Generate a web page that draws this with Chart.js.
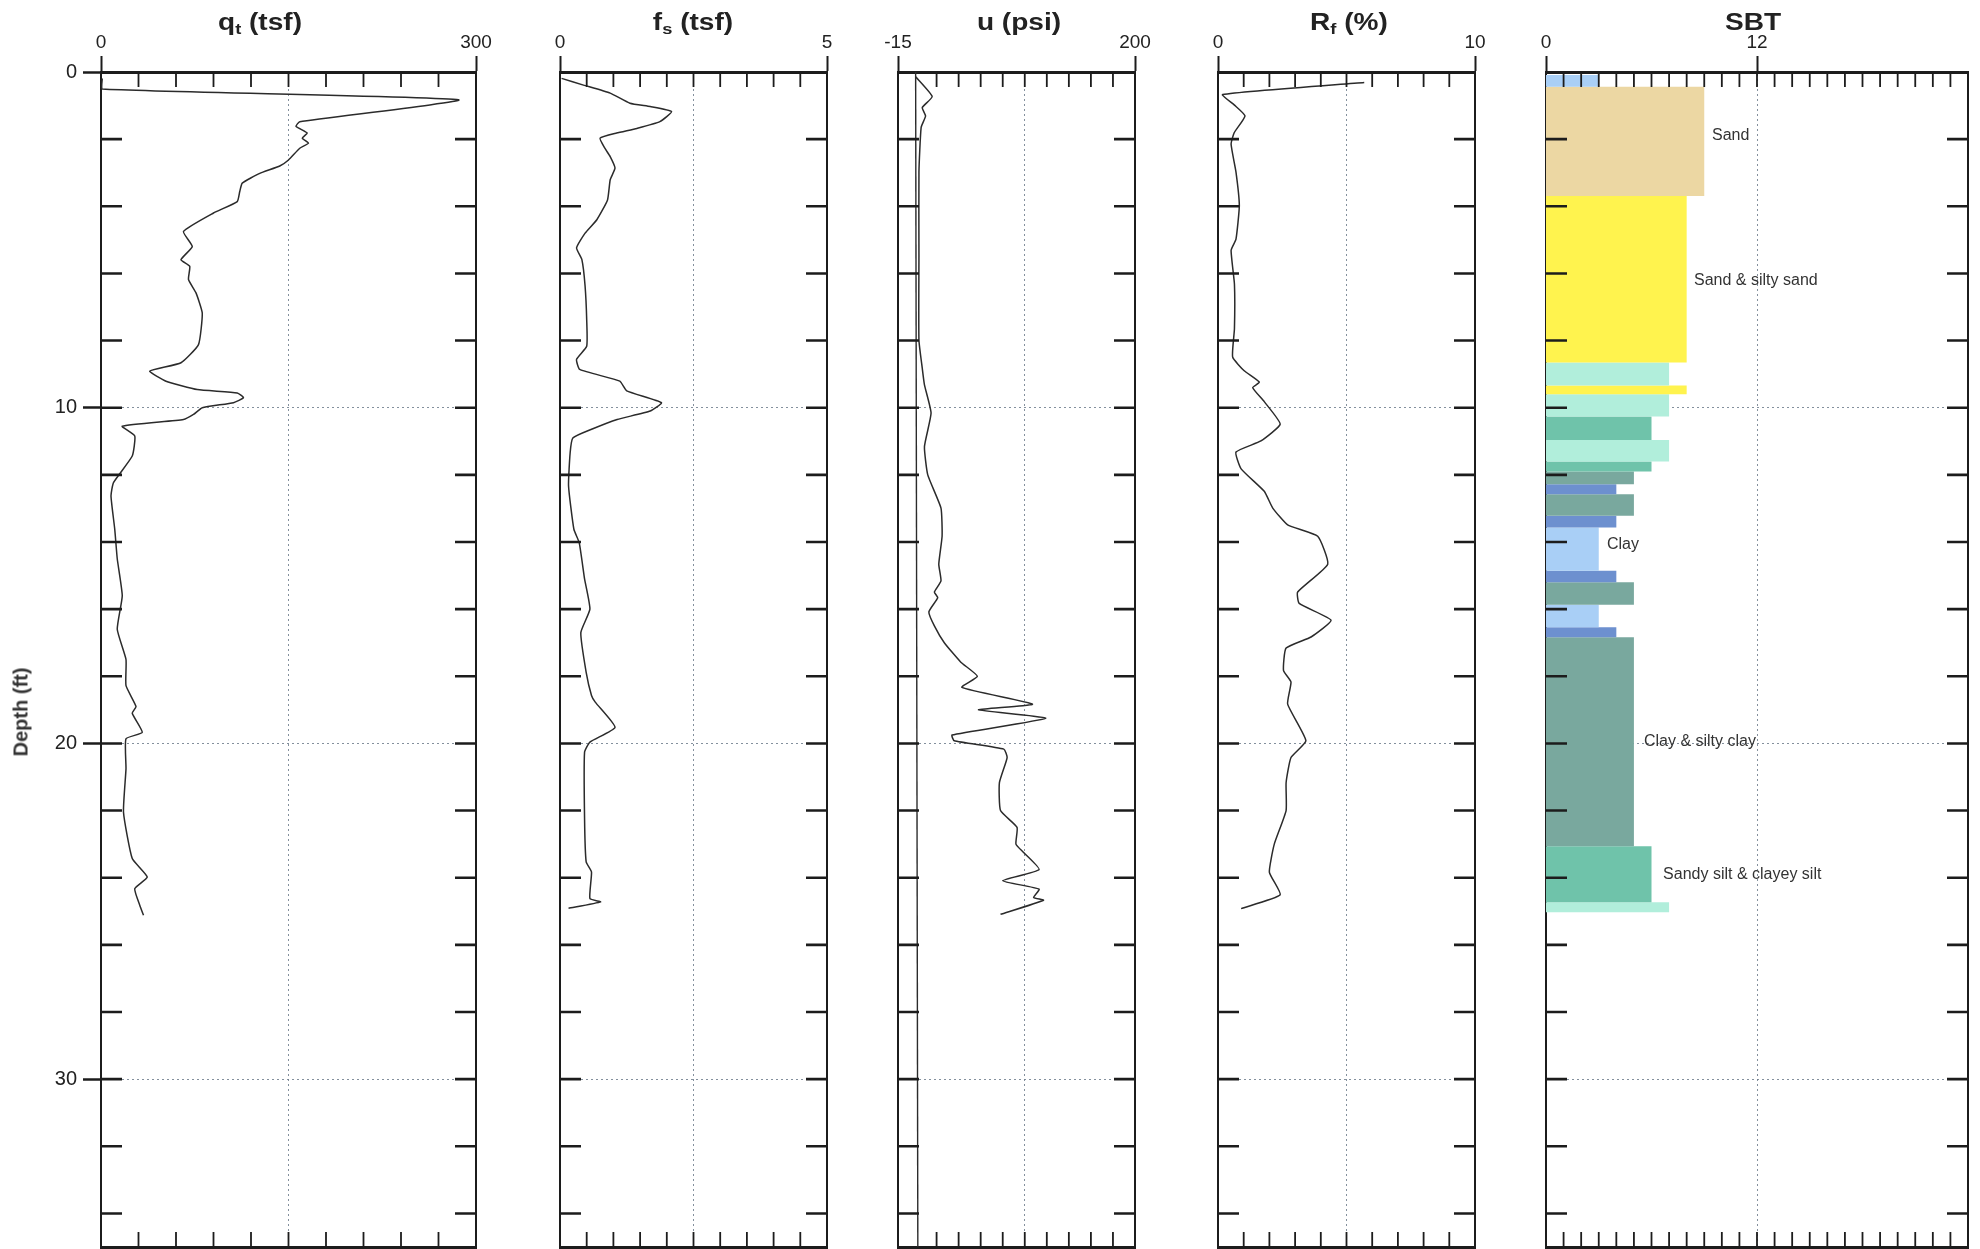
<!DOCTYPE html>
<html>
<head>
<meta charset="utf-8">
<script src="https://cdn.jsdelivr.net/npm/chart.js@4.4.1/dist/chart.umd.min.js"></script>
<style>
  html, body { margin:0; padding:0; background:#fff; width:1980px; height:1249px; overflow:hidden; }
  body { position:relative; font-family:'Liberation Sans', Arial, sans-serif; }
  canvas { position:absolute; top:0; }
  .ttl { position:absolute; top:11px; font-weight:bold; font-size:23px; line-height:23px; color:#222;
         white-space:nowrap; transform:translateX(-50%) scaleX(1.22); z-index:2; }
  .sb { font-size:15px; vertical-align:-4px; }
  .ylab { position:absolute; left:21px; top:712px; font-weight:bold; font-size:20px; color:#333; white-space:nowrap;
          transform:translate(-50%,-50%) rotate(-90deg); z-index:2; }
</style>
</head>
<body>
<div class="ttl" style="left:260px">q<span class="sb">t</span> (tsf)</div>
<div class="ttl" style="left:693px">f<span class="sb">s</span> (tsf)</div>
<div class="ttl" style="left:1019px">u (psi)</div>
<div class="ttl" style="left:1349px">R<span class="sb">f</span> (%)</div>
<div class="ttl" style="left:1753px">SBT</div>
<div class="ylab">Depth (ft)</div>

<canvas id="cQt"></canvas>
<canvas id="cFs"></canvas>
<canvas id="cU"></canvas>
<canvas id="cRf"></canvas>
<canvas id="cSbt"></canvas>

<script>
// ---------------- DATA ----------------
// depth axis
const depthTicks  = [0,2,4,6,8,10,12,14,16,18,20,22,24,26,28,30,32,34];
const depthLabels = [0,10,20,30];
const depthGrid   = [10,20,30];

// cone resistance qt (tsf)
const qtTicks  = [0,30,60,90,120,150,180,210,240,270,300];
const qtLabels = [0,300];
const qtDepth = [0.19,0.51,0.83,1.48,1.62,1.82,1.97,2.12,2.27,2.62,2.80,3.02,3.31,3.56,3.86,4.20,4.75,5.20,5.59,5.79,6.18,6.58,7.18,8.12,8.66,8.91,9.21,9.46,9.56,9.70,9.85,10.00,10.20,10.35,10.55,10.84,11.44,12.23,12.63,13.62,14.50,15.60,16.60,17.50,18.28,18.90,19.10,19.67,19.86,20.75,22.05,23.43,23.98,24.33,24.82,25.12];
const qtValue = [1,1,286,159,156,165,161,166,159,150,143,127,113,111,109,90,66,73,64,71,70,76,81,78,64,39,52,77,109,114,106,81,74,66,17,27,25,10,8,11,13,17,13,20,20,28,25,33,20,20,18,25,37,27,31,34];

// sleeve friction fs (tsf)
const fsTicks  = [0,0.5,1,1.5,2,2.5,3,3.5,4,4.5,5];
const fsLabels = [0,5];
const fsDepth = [0.19,0.39,0.63,0.93,1.03,1.18,1.48,1.68,1.82,1.97,2.27,2.52,2.86,3.21,3.81,4.40,4.80,5.24,5.59,6.38,7.38,8.17,8.56,8.86,9.21,9.50,9.85,10.10,10.35,10.65,10.90,11.34,12.33,13.62,14.02,15.10,16.00,16.70,17.88,18.57,18.77,19.52,19.96,20.26,22.24,23.53,23.83,24.62,24.72,24.91];
const fsValue = [0.03,0.44,0.94,1.31,1.69,2.09,1.87,1.44,1.06,0.75,0.84,0.94,1.03,0.94,0.89,0.69,0.47,0.31,0.41,0.47,0.50,0.50,0.31,0.37,1.12,1.25,1.90,1.69,1.07,0.58,0.24,0.19,0.16,0.26,0.36,0.46,0.56,0.39,0.49,0.59,0.66,1.03,0.56,0.46,0.46,0.49,0.59,0.56,0.76,0.16];

// pore pressure u (psi)
const uTicks  = [-15,20,40,60,80,100,120,140,160,180,200];
const uLabels = [-15,200];
const uDepth = [0.14,0.73,1.06,1.31,1.65,2.98,5.48,7.99,8.82,9.32,10.16,11.16,12.00,12.99,13.83,14.66,15.16,15.49,15.66,16.08,16.50,17.00,17.58,18.00,18.33,18.83,19.00,19.25,19.75,19.92,20.17,20.42,21.17,22.00,22.50,23.00,23.25,23.76,24.09,24.34,24.59,24.67,25.09];
const uValue = [1,16,7,10,6,4,4,4,7,9,15,9,12,24,25,22,24,18,21,13,18,27,42,57,43,107,58,119,34,36,81,84,77,78,93,92,99,113,80,113,108,117,78];
const u0Depth = [0,35];
const u0Value = [1,3];

// friction ratio Rf (%)
const rfTicks  = [0,1,2,3,4,5,6,7,8,9,10];
const rfLabels = [0,10];
const rfDepth = [0.31,0.67,0.98,1.31,1.81,2.15,2.98,3.98,4.98,5.31,6.32,7.65,8.49,8.90,9.24,9.40,9.82,10.49,10.99,11.32,11.82,12.49,12.99,13.49,13.83,14.66,15.49,15.83,16.33,16.83,17.16,17.83,18.17,18.83,19.92,20.42,21.17,22.00,23.00,23.84,24.51,24.92];
const rfValue = [5.69,0.18,0.63,1.05,0.63,0.51,0.70,0.83,0.70,0.51,0.64,0.64,0.57,1.02,1.61,1.35,1.80,2.42,1.67,0.70,0.90,1.80,2.13,2.71,3.88,4.27,3.10,3.16,4.40,3.62,2.65,2.55,2.84,2.71,3.42,2.84,2.65,2.65,2.19,2.00,2.42,0.90];

// soil behaviour type layers
const sbtTicks  = [0,1,2,3,4,5,6,7,8,9,10,11,12,13,14,15,16,17,18,19,20,21,22,23,24];
const sbtLabels = [0,12];
const sbtTop    = [0.09,0.44,3.69,8.65,9.34,9.60,10.26,10.96,11.60,11.90,12.28,12.58,13.22,13.57,14.86,15.20,15.87,16.54,16.84,23.06,24.73];
const sbtBottom = [0.44,3.69,8.65,9.34,9.60,10.26,10.96,11.60,11.90,12.28,12.58,13.22,13.57,14.86,15.20,15.87,16.54,16.84,23.06,24.73,25.03];
const sbtZone   = [3,9,8,7,8,7,6,7,6,5,4,5,4,3,4,5,3,4,5,6,7];
const sbtLabelText  = ['Sand','Sand & silty sand','Clay','Clay & silty clay','Sandy silt & clayey silt'];
const sbtLabelDepth = [1.9,6.22,14.09,19.95,23.9];
const sbtLabelX     = [9.44,8.42,3.47,5.57,6.66];

// ---------------- STYLE ----------------
const zoneColor = {3:'#a9cff6', 4:'#6d90cf', 5:'#79a89e', 6:'#6fc3aa', 7:'#b1eedb', 8:'#fff34e', 9:'#ecd7a3'};
const INK = '#1c1c1c';
const GRID = 'rgba(110,125,140,0.85)';
const NONE = 'rgba(0,0,0,0)';
const H = 1266;          // canvas height (bottom part falls outside the 1249px page)
const BOTTOM_BOX = 19;   // chart area ends at 1247px

Chart.defaults.font.family = "'Liberation Sans', Arial, sans-serif";

const innerTicks = {
  id: 'innerTicks',
  afterDraw(chart) {
    const {ctx, chartArea: a} = chart;
    const sx = chart.scales.x, sy = chart.scales.y;
    ctx.save();
    ctx.strokeStyle = INK;
    ctx.lineWidth = 1.8;
    ctx.beginPath();
    sx.ticks.forEach(t => {
      if (t.value <= sx.min || t.value >= sx.max) return;
      const px = sx.getPixelForValue(t.value);
      ctx.moveTo(px, a.top); ctx.lineTo(px, a.top + 15);
      ctx.moveTo(px, a.bottom); ctx.lineTo(px, a.bottom - 15);
    });
    ctx.stroke();
    ctx.lineWidth = 2.6;
    ctx.beginPath();
    sy.ticks.forEach(t => {
      if (t.value <= sy.min || t.value >= sy.max) return;
      const py = sy.getPixelForValue(t.value);
      ctx.moveTo(a.left, py); ctx.lineTo(a.left + 21, py);
      ctx.moveTo(a.right, py); ctx.lineTo(a.right - 21, py);
    });
    ctx.stroke();
    ctx.restore();
  }
};

const sbtText = {
  id: 'sbtText',
  afterDatasetsDraw(chart) {
    const {ctx} = chart;
    const sx = chart.scales.x, sy = chart.scales.y;
    ctx.save();
    ctx.font = "16px 'Liberation Sans', Arial, sans-serif";
    ctx.fillStyle = '#333';
    ctx.textAlign = 'left';
    ctx.textBaseline = 'middle';
    sbtLabelText.forEach((t, i) => {
      ctx.fillText(t, sx.getPixelForValue(sbtLabelX[i]), sy.getPixelForValue(sbtLabelDepth[i]));
    });
    ctx.restore();
  }
};

function profile(depths, values, extra) {
  return Object.assign({
    data: depths.map((d, i) => ({x: values[i], y: d})),
    xAxisID: 'x', yAxisID: 'y',
    borderColor: '#2b2b2b', borderWidth: 1.5, pointRadius: 0, tension: 0.15, fill: false
  }, extra || {});
}

function panel(o) {
  const cv = document.getElementById(o.id);
  cv.width = o.padL + o.plotW + o.padR;
  cv.height = H;
  cv.style.left = o.left + 'px';
  cv.style.width = cv.width + 'px';
  cv.style.height = H + 'px';
  const isLabel = v => o.xLabels.includes(v);
  return new Chart(cv, {
    type: 'line',
    data: {datasets: o.datasets},
    plugins: [innerTicks].concat(o.plugins || []),
    options: {
      responsive: false, maintainAspectRatio: false, animation: false, devicePixelRatio: 1, events: [],
      layout: {padding: 0},
      plugins: {legend: {display: false}, tooltip: {enabled: false}},
      scales: {
        x: {
          type: 'linear', position: 'top', min: o.xMin, max: o.xMax,
          afterBuildTicks: s => { s.ticks = o.xTicks.map(v => ({value: v})); },
          afterFit: s => { s.height = 72; },
          ticks: {autoSkip: false, maxRotation: 0, padding: 2, color: '#222', font: {size: 19},
                  callback: v => isLabel(v) ? String(v) : ''},
          grid: {lineWidth: 1,
                 color: c => (c.tick && c.tick.value === o.xGrid) ? GRID : NONE,
                 tickLength: 16, tickWidth: 2,
                 tickColor: c => (c.tick && isLabel(c.tick.value)) ? INK : NONE},
          border: {display: true, color: INK, width: 3, dash: [2, 3]}
        },
        x2: {
          type: 'linear', position: 'bottom', min: o.xMin, max: o.xMax,
          afterFit: s => { s.height = BOTTOM_BOX; },
          ticks: {display: false}, grid: {display: false, drawTicks: false},
          border: {display: true, color: INK, width: 3}
        },
        y: {
          type: 'linear', position: 'left', reverse: true, min: 0, max: 35,
          afterBuildTicks: s => { s.ticks = depthTicks.map(v => ({value: v})); },
          afterFit: s => { s.width = o.padL; },
          ticks: {display: !!o.showDepth, autoSkip: false, padding: 6, color: '#222', font: {size: 20},
                  callback: v => depthLabels.includes(v) ? String(v) : ''},
          grid: {lineWidth: 1, drawTicks: !!o.showDepth, tickLength: 18, tickWidth: 2.5,
                 color: c => (c.tick && depthGrid.includes(c.tick.value)) ? GRID : NONE,
                 tickColor: c => (c.tick && depthLabels.includes(c.tick.value)) ? INK : NONE},
          border: {display: true, color: INK, width: 2, dash: [2, 3]}
        },
        y2: {
          type: 'linear', position: 'right', reverse: true, min: 0, max: 35,
          afterFit: s => { s.width = o.padR; },
          ticks: {display: false}, grid: {display: false, drawTicks: false},
          border: {display: true, color: INK, width: 2}
        }
      }
    }
  });
}

panel({id: 'cQt', left: 0, padL: 101, plotW: 375, padR: 30, showDepth: true,
       xMin: 0, xMax: 300, xTicks: qtTicks, xLabels: qtLabels, xGrid: 150,
       datasets: [profile(qtDepth, qtValue)]});

panel({id: 'cFs', left: 530, padL: 30, plotW: 267, padR: 30,
       xMin: 0, xMax: 5, xTicks: fsTicks, xLabels: fsLabels, xGrid: 2.5,
       datasets: [profile(fsDepth, fsValue)]});

panel({id: 'cU', left: 868, padL: 30, plotW: 237, padR: 30,
       xMin: -15, xMax: 200, xTicks: uTicks, xLabels: uLabels, xGrid: 100,
       datasets: [profile(u0Depth, u0Value, {tension: 0, borderWidth: 1.4}), profile(uDepth, uValue)]});

panel({id: 'cRf', left: 1188, padL: 30, plotW: 257, padR: 30,
       xMin: 0, xMax: 10, xTicks: rfTicks, xLabels: rfLabels, xGrid: 5,
       datasets: [profile(rfDepth, rfValue)]});

const sbtSets = sbtZone.map((z, i) => ({
  data: [{x: 0, y: sbtTop[i]}, {x: z, y: sbtTop[i]}, {x: z, y: sbtBottom[i]}, {x: 0, y: sbtBottom[i]}],
  xAxisID: 'x', yAxisID: 'y',
  fill: 'shape', backgroundColor: zoneColor[z], borderColor: NONE, borderWidth: 0,
  pointRadius: 0, tension: 0
}));

panel({id: 'cSbt', left: 1521, padL: 25, plotW: 422, padR: 12,
       xMin: 0, xMax: 24, xTicks: sbtTicks, xLabels: sbtLabels, xGrid: 12,
       datasets: sbtSets, plugins: [sbtText]});
</script>
</body>
</html>
